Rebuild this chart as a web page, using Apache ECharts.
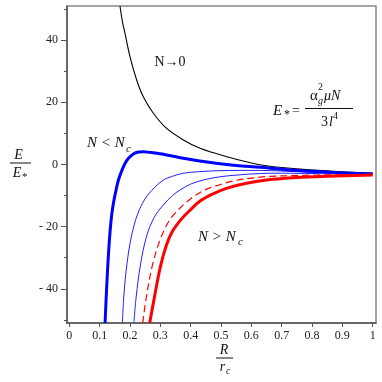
<!DOCTYPE html>
<html>
<head>
<meta charset="utf-8">
<script src="https://cdn.jsdelivr.net/npm/echarts@6/dist/echarts.min.js"></script>
<style>
  html, body { margin: 0; padding: 0; background: #fff; }
  #chart { width: 382px; height: 382px; }
</style>
</head>
<body>
<div id="chart"></div>
<script>
// tick labels
const xTicks = [0, 0.1, 0.2, 0.3, 0.4, 0.5, 0.6, 0.7, 0.8, 0.9, 1];
const yMajor = [-40, -20, 0, 20, 40];
const yMinor = [-50, -30, -10, 10, 30, 50];

// N -> 0 (black)
const blackR = [0.167, 0.175, 0.184, 0.2, 0.222, 0.244, 0.277, 0.321, 0.376, 0.431, 0.519, 0.6, 0.65, 0.76, 0.87, 1.0];
const blackE = [51, 46, 42, 34.7, 27.2, 21.8, 16.5, 11.6, 7.9, 5.2, 2.5, 0.5, -0.4, -1.5, -2.2, -2.8];

// N < Nc (thick blue)
const blueThickR = [0.118, 0.121, 0.125, 0.129, 0.134, 0.14, 0.147, 0.155, 0.162, 0.172, 0.184, 0.195, 0.211, 0.228, 0.245, 0.265, 0.29, 0.33, 0.376, 0.43, 0.49, 0.55, 0.63, 0.7, 0.8, 0.9, 1.0];
const blueThickE = [-51, -44, -36, -29, -22, -16, -11.6, -7.8, -5, -2.2, 0.4, 2.0, 3.4, 4.0, 4.1, 3.9, 3.6, 2.9, 2.0, 1.1, 0.3, -0.3, -0.9, -1.5, -2.2, -2.7, -3.0];

// intermediate (thin blue)
const blueThin1R = [0.175, 0.18, 0.19, 0.205, 0.225, 0.25, 0.28, 0.31, 0.34, 0.376, 0.43, 0.49, 0.56, 0.63, 0.7, 0.8, 0.9, 1.0];
const blueThin1E = [-51, -42, -32, -23, -16, -11, -7.5, -5.0, -3.8, -2.8, -2.3, -2.0, -1.9, -1.9, -2.1, -2.5, -2.8, -3.0];
const blueThin2R = [0.213, 0.22, 0.235, 0.255, 0.28, 0.31, 0.34, 0.365, 0.4, 0.43, 0.48, 0.54, 0.63, 0.7, 0.8, 0.9, 1.0];
const blueThin2E = [-51, -43, -32, -23, -17, -13, -10, -8.2, -6.3, -5.3, -4.2, -3.5, -2.9, -2.8, -2.9, -3.0, -3.1];

// critical (dashed red)
const redDashR = [0.242, 0.255, 0.275, 0.3, 0.33, 0.36, 0.4, 0.44, 0.48, 0.54, 0.6, 0.65, 0.76, 0.87, 1.0];
const redDashE = [-51, -42, -32, -24, -18, -14.5, -11, -8.5, -7.0, -5.3, -4.4, -3.9, -3.5, -3.3, -3.2];

// N > Nc (thick red)
const redThickR = [0.265, 0.28, 0.3, 0.32, 0.34, 0.37, 0.4, 0.43, 0.47, 0.52, 0.58, 0.65, 0.75, 0.85, 1.0];
const redThickE = [-51, -43, -33, -26, -21.5, -17.5, -14.5, -11.8, -9.6, -7.6, -6.1, -5.0, -4.2, -3.8, -3.4];

function pairs(xs, ys) {
  return xs.map((x, i) => [x, ys[i]]);
}

const serif = 'Liberation Serif';

function curve(xs, ys, color, width, dashed) {
  return {
    type: 'line',
    data: pairs(xs, ys),
    showSymbol: false,
    smooth: 0.35,
    lineStyle: { color: color, width: width, type: dashed ? [7, 4] : 'solid' },
    silent: true
  };
}

function txt(x, y, s, size, italic, align) {
  return {
    type: 'text',
    x: x, y: y,
    style: {
      text: s,
      fill: '#111',
      font: (italic ? 'italic ' : '') + size + 'px "' + serif + '"',
      textAlign: align || 'left',
      textVerticalAlign: 'middle'
    }
  };
}

function bar(x1, x2, y) {
  return {
    type: 'line',
    shape: { x1: x1, y1: y, x2: x2, y2: y },
    style: { stroke: '#111', lineWidth: 1 }
  };
}

let myChart = echarts.init(document.getElementById('chart'));

let option = {
  animation: false,
  grid: {
    left: 67, right: 6, top: 6, bottom: 59,
    show: true, borderColor: '#888', borderWidth: 1.5
  },
  xAxis: {
    type: 'value',
    min: -0.0076,
    max: 1.011,
    splitLine: { show: false },
    axisLine: { onZero: false, lineStyle: { color: '#555', width: 1.5 } },
    axisTick: { customValues: xTicks, length: 4, lineStyle: { color: '#555' } },
    axisLabel: {
      customValues: xTicks,
      margin: 7,
      fontFamily: serif,
      fontSize: 12,
      color: '#222',
      formatter: function (v) {
        if (v === 0 || v === 1) return String(v);
        return v.toFixed(1);
      }
    }
  },
  yAxis: [{
    type: 'value',
    min: -51,
    max: 51,
    splitLine: { show: false },
    axisLine: { show: true, onZero: false, lineStyle: { color: '#555', width: 1.5 } },
    axisTick: { show: true, customValues: yMajor, length: 6, lineStyle: { color: '#555' } },
    axisLabel: {
      customValues: yMajor,
      margin: 9,
      fontFamily: serif,
      fontSize: 12,
      color: '#222',
      formatter: function (v) { return v < 0 ? '- ' + Math.abs(v) : String(v); }
    }
  }, {
    type: 'value',
    position: 'left',
    min: -51,
    max: 51,
    splitLine: { show: false },
    axisLine: { show: false, onZero: false },
    axisTick: { show: true, customValues: yMinor, length: 3, lineStyle: { color: '#555' } },
    axisLabel: { show: false }
  }],
  series: [
    curve(blackR, blackE, '#000000', 1.1, false),
    curve(blueThin1R, blueThin1E, '#2222ff', 1, false),
    curve(blueThin2R, blueThin2E, '#2222ff', 1, false),
    curve(blueThickR, blueThickE, '#0000ff', 3, false),
    curve(redDashR, redDashE, '#ff0000', 1.2, true),
    curve(redThickR, redThickE, '#ff0000', 3, false)
  ],
  graphic: [
    // annotations
    txt(170, 62, 'N→0', 14, false, 'center'),
    txt(87, 143, 'N < N', 15, true),
    txt(126, 149, 'c', 11, true),
    txt(198, 237, 'N > N', 15, true),
    txt(238, 242, 'c', 11, true),
    // E* formula
    txt(273, 111.5, 'E', 15, true),
    txt(284, 115, '*', 12, false),
    txt(292, 111, '=', 14, false),
    txt(310, 96, 'α', 15, false),
    txt(318, 87, '2', 10, false),
    txt(318, 101, 'g', 10, true),
    txt(324, 96, 'μN', 14, true),
    bar(305, 353, 108.5),
    txt(321, 122, '3', 14, false),
    txt(329, 122, 'l', 14, true),
    txt(333, 116, '4', 10, false),
    // y axis title
    txt(18.5, 155, 'E', 14, true, 'center'),
    bar(10, 31, 163),
    txt(17, 173, 'E', 14, true, 'center'),
    txt(22, 177, '*', 11, false),
    // x axis title
    txt(224, 350, 'R', 14, true, 'center'),
    bar(216, 233, 358),
    txt(222.5, 367, 'r', 14, true, 'center'),
    txt(226, 371, 'c', 10, true)
  ]
};

myChart.setOption(option);
</script>
</body>
</html>
